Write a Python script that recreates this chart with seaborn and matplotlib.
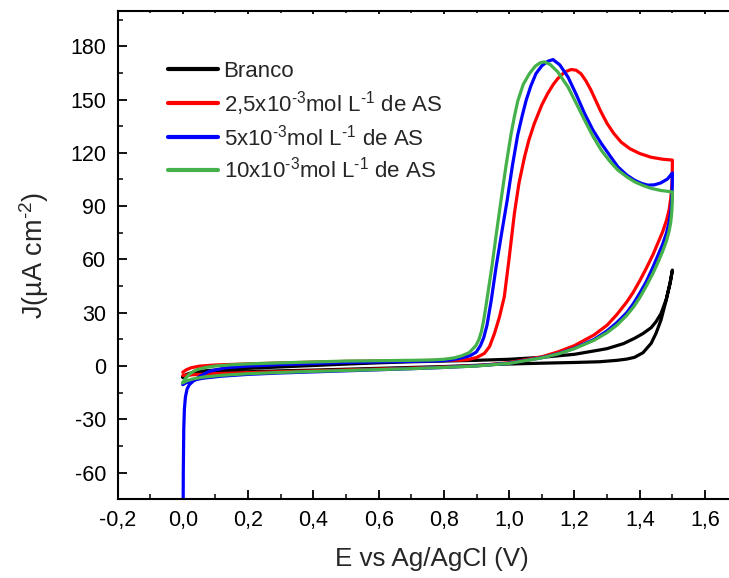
import matplotlib
matplotlib.use("Agg")
import matplotlib.pyplot as plt
import seaborn as sns
import pandas as pd
from matplotlib.ticker import MultipleLocator, FuncFormatter

# ---------------- data ----------------
series_labels = [
    "Branco",
    "2,5x10$^{\u20103}$mol L$^{\u20101}$ de AS",
    "5x10$^{\u20103}$mol L$^{\u20101}$ de AS",
    "10x10$^{\u20103}$mol L$^{\u20101}$ de AS",
]
series_colors = ["#000000", "#FF0000", "#0000FF", "#45B14A"]

branco_E = [0.0, 0.01, 0.03, 0.06, 0.1, 0.2, 0.3, 0.4, 0.5, 0.6, 0.7, 0.8, 0.9, 0.97, 1.1, 1.2,
            1.276, 1.33, 1.36, 1.384, 1.41, 1.435, 1.45, 1.465, 1.481, 1.493, 1.5,
            1.493, 1.481, 1.465, 1.45, 1.435, 1.41, 1.384, 1.35, 1.3, 1.276, 1.2, 1.1, 1.0,
            0.9, 0.8, 0.7, 0.6, 0.5, 0.4, 0.3, 0.2, 0.12, 0.06, 0.03, 0.01, 0.0]
branco_J = [-6.5, -5.5, -4.6, -4.0, -3.7, -3.2, -2.7, -2.3, -1.8, -1.3, -0.8, -0.3, 0.4, 1.0, 1.6, 2.0,
            2.4, 3.2, 3.9, 4.9, 7.5, 12.8, 18.5, 25.9, 37.1, 47.0, 54.0,
            46.5, 37.5, 29.5, 25.0, 21.6, 18.3, 15.6, 12.6, 9.8, 9.0, 6.6, 4.9, 3.8,
            3.2, 2.8, 2.4, 1.8, 1.1, 0.3, -0.5, -1.3, -2.0, -2.8, -3.6, -4.8, -6.0]

as25_E = [0.0, 0.01, 0.025, 0.05, 0.1, 0.2, 0.3, 0.4, 0.5, 0.6, 0.7, 0.8, 0.85, 0.873, 0.9, 0.924,
          0.94, 0.955, 0.97, 0.985, 1.0, 1.016, 1.03, 1.047, 1.06, 1.077, 1.1, 1.118, 1.135, 1.149,
          1.17, 1.19, 1.205, 1.22, 1.235, 1.25, 1.265, 1.28, 1.30, 1.32, 1.343, 1.37, 1.40, 1.435, 1.47, 1.5,
          1.4995, 1.498, 1.495, 1.49, 1.482, 1.47, 1.455, 1.44, 1.42, 1.40, 1.38, 1.36, 1.33, 1.30,
          1.26, 1.2, 1.15, 1.1, 1.0, 0.9, 0.8, 0.7, 0.6, 0.5, 0.4, 0.3, 0.2, 0.1, 0.05, 0.02, 0.0]
as25_J = [-3.5, -2.2, -1.0, -0.1, 0.6, 1.2, 1.7, 2.2, 2.6, 2.8, 3.0, 3.2, 3.3, 3.6, 4.8, 7.1,
          11.0, 18.4, 27.5, 39.0, 61.0, 86.0, 103.0, 117.7, 127.0, 136.5, 147.0, 153.4, 158.5, 161.8,
          165.5, 166.9, 166.5, 164.5, 160.5, 155.5, 149.5, 143.5, 136.5, 131.0, 126.0, 122.3, 119.6, 117.5, 116.4, 115.9,
          108.0, 101.0, 94.5, 88.0, 82.0, 75.5, 69.0, 62.5, 55.0, 48.0, 41.5, 36.0, 29.0, 23.0,
          17.5, 11.5, 8.0, 5.2, 1.9, 0.2, -0.6, -1.2, -1.7, -2.2, -2.7, -3.2, -3.7, -4.3, -4.7, -5.0, -5.3]

as5_E = [0.0, 0.0015, 0.003, 0.005, 0.008, 0.013, 0.02, 0.035, 0.055, 0.08, 0.13, 0.2, 0.3, 0.4,
         0.5, 0.6, 0.7, 0.78, 0.82, 0.853, 0.88, 0.899, 0.912, 0.922, 0.932, 0.945, 0.96, 0.977,
         0.994, 1.01, 1.026, 1.04, 1.052, 1.066, 1.082, 1.1, 1.118, 1.134, 1.155, 1.18, 1.205,
         1.231, 1.256, 1.282, 1.31, 1.333, 1.36, 1.384, 1.405, 1.425, 1.445, 1.465, 1.485, 1.5,
         1.4995, 1.498, 1.495, 1.49, 1.482, 1.47, 1.455, 1.44, 1.42, 1.40, 1.38, 1.36, 1.33, 1.30,
         1.26, 1.2, 1.15, 1.1, 1.0, 0.9, 0.8, 0.7, 0.6, 0.5, 0.4, 0.3, 0.2, 0.12, 0.06, 0.03, 0.01, 0.0]
as5_J = [-140.0, -60.0, -35.0, -24.0, -17.5, -13.0, -10.5, -8.0, -5.5, -3.0, -1.0, 0.0, 0.8, 1.4,
         2.0, 2.3, 2.6, 2.9, 3.4, 4.5, 5.8, 7.8, 11.5, 16.0, 23.0, 37.0, 56.0, 75.0,
         93.5, 113.0, 130.0, 141.0, 149.6, 157.5, 164.6, 169.0, 171.5, 172.5, 169.5, 162.7, 153.0,
         142.1, 133.0, 125.3, 118.0, 112.1, 107.5, 104.6, 102.8, 101.8, 102.0, 103.1, 105.3, 108.7,
         101.0, 94.0, 87.0, 81.0, 75.0, 68.5, 62.0, 55.5, 47.5, 41.0, 35.0, 30.0, 24.5, 19.8,
         15.0, 10.0, 6.9, 4.7, 1.6, 0.1, -0.8, -1.5, -2.1, -2.7, -3.3, -3.9, -4.7, -5.7, -6.9, -8.1, -9.4, -10.5]

as10_E = [0.0, 0.008, 0.02, 0.035, 0.046, 0.07, 0.1, 0.15, 0.2, 0.3, 0.4, 0.5, 0.6, 0.7, 0.76, 0.8,
          0.832, 0.855, 0.878, 0.898, 0.907, 0.915, 0.922, 0.929, 0.938, 0.947, 0.961, 0.975, 0.99,
          1.006, 1.016, 1.026, 1.043, 1.062, 1.08, 1.095, 1.108, 1.125, 1.149, 1.18, 1.205, 1.231,
          1.256, 1.282, 1.308, 1.333, 1.36, 1.384, 1.41, 1.435, 1.465, 1.5,
          1.4995, 1.498, 1.495, 1.49, 1.482, 1.47, 1.455, 1.44, 1.42, 1.40, 1.38, 1.36, 1.33, 1.30,
          1.26, 1.2, 1.15, 1.1, 1.0, 0.9, 0.8, 0.7, 0.6, 0.5, 0.4, 0.3, 0.2, 0.12, 0.06, 0.03, 0.01, 0.0]
as10_J = [-9.4, -7.0, -4.6, -2.8, -1.9, -0.8, 0.0, 0.7, 1.2, 1.8, 2.3, 2.8, 3.0, 3.2, 3.4, 3.8,
          4.6, 5.8, 7.6, 11.5, 14.8, 19.5, 26.0, 34.0, 45.0, 56.0, 75.0, 93.4, 112.5,
          130.9, 140.5, 149.0, 158.5, 164.6, 168.8, 170.7, 171.2, 169.8, 165.5, 157.1, 148.0, 138.4,
          129.5, 121.5, 115.3, 110.3, 106.5, 103.7, 101.6, 100.0, 98.8, 98.0,
          92.0, 86.5, 81.0, 76.0, 70.5, 64.5, 58.0, 52.0, 45.0, 38.5, 33.0, 28.5, 23.0, 18.8,
          14.5, 9.8, 6.8, 4.6, 1.5, 0.0, -0.8, -1.5, -2.0, -2.5, -3.0, -3.6, -4.3, -5.2, -6.3, -7.3, -8.5, -9.4]

x_ticks = [-0.2, 0.0, 0.2, 0.4, 0.6, 0.8, 1.0, 1.2, 1.4, 1.6]
y_ticks = [-60, -30, 0, 30, 60, 90, 120, 150, 180]

# ---------------- build table ----------------
frames = []
for lab, E, J in zip(series_labels, [branco_E, as25_E, as5_E, as10_E],
                     [branco_J, as25_J, as5_J, as10_J]):
    frames.append(pd.DataFrame({"E": E, "J": J, "serie": lab}))
df = pd.concat(frames, ignore_index=True)

# ---------------- style ----------------
sns.set_style("ticks")
plt.rcParams["font.family"] = ["Liberation Sans", "DejaVu Sans"]
plt.rcParams["mathtext.fontset"] = "custom"
plt.rcParams["mathtext.rm"] = "Liberation Sans"
plt.rcParams["mathtext.it"] = "Liberation Sans:italic"
plt.rcParams["mathtext.bf"] = "Liberation Sans:bold"
plt.rcParams["axes.unicode_minus"] = False

fig = plt.figure(figsize=(7.29, 5.78), dpi=100)
# the frame runs past the right edge of the picture (right side cropped)
ax = fig.add_axes([0.1612, 0.1362, 0.8628, 0.8453])

sns.lineplot(data=df, x="E", y="J", hue="serie", hue_order=series_labels,
             palette=series_colors, sort=False, estimator=None, linewidth=2.3, ax=ax)

ax.set_xlim(-0.2, 1.727)
ax.set_ylim(-75, 200)
ax.set_xticks(x_ticks)
ax.set_yticks(y_ticks)
ax.xaxis.set_minor_locator(MultipleLocator(0.1))
ax.yaxis.set_minor_locator(MultipleLocator(15))
ax.xaxis.set_major_formatter(FuncFormatter(lambda v, p: f"{v:.1f}".replace(".", ",").replace("-0,0", "0,0")))
ax.yaxis.set_major_formatter(FuncFormatter(lambda v, p: f"{int(round(v))}"))

for s in ["left", "bottom", "top"]:
    ax.spines[s].set_linewidth(1.5)
    ax.spines[s].set_color("black")
ax.spines["right"].set_visible(False)

ax.tick_params(axis="both", which="major", direction="in", length=6.5, width=1.3,
               labelsize=15.5, pad=8, colors="black")
ax.tick_params(axis="both", which="minor", direction="in", length=3.5, width=1.3)
ax.tick_params(axis="y", which="both", right=False)
ax.tick_params(axis="x", which="both", top=True)
# top ticks are tiny in the reference
for t in ax.xaxis.get_major_ticks():
    t.tick2line.set_markersize(2.5)
for t in ax.xaxis.get_minor_ticks():
    t.tick2line.set_markersize(1.5)

ax.set_xlabel("E vs Ag/AgCl (V)", fontsize=18.7, labelpad=11)
ax.set_ylabel("J(µA cm$^{\u20102}$)", fontsize=19.5, labelpad=14)

handles, labels = ax.get_legend_handles_labels()
leg = ax.legend(handles, labels, loc="upper left", bbox_to_anchor=(0.0803, 0.897),
                frameon=False, fontsize=16, handlelength=2.25, handletextpad=0.25,
                labelspacing=0.3, borderpad=0, borderaxespad=0)
for h in leg.get_lines():
    h.set_linewidth(3)

fig.savefig("out.png", dpi=100)
